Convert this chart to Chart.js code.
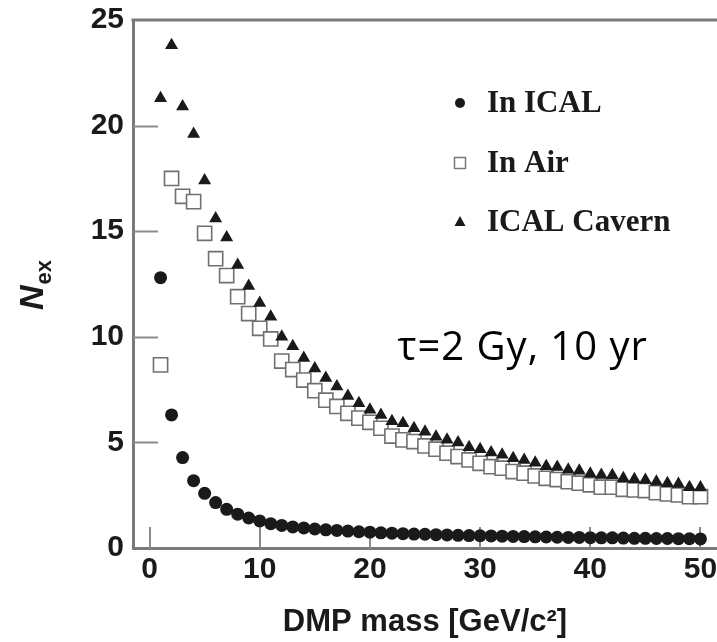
<!DOCTYPE html>
<html>
<head>
<meta charset="utf-8">
<title>N_ex vs DMP mass</title>
<script src="https://cdn.jsdelivr.net/npm/chart.js@4.4.1/dist/chart.umd.min.js"></script>
<style>
  html, body { margin: 0; padding: 0; background: #fff; }
  #chart { display: block; }
</style>
</head>
<body>
<canvas id="chart" width="717" height="642"></canvas>
<script>
// DMP mass in GeV/c^2
const masses = [1, 2, 3, 4, 5, 6, 7, 8, 9, 10,
  11, 12, 13, 14, 15, 16, 17, 18, 19, 20,
  21, 22, 23, 24, 25, 26, 27, 28, 29, 30,
  31, 32, 33, 34, 35, 36, 37, 38, 39, 40,
  41, 42, 43, 44, 45, 46, 47, 48, 49, 50];

const inIcal = [12.8, 6.3, 4.28, 3.19, 2.59, 2.15, 1.83, 1.6, 1.42, 1.28,
  1.15, 1.07, 1.0, 0.95, 0.9, 0.86, 0.83, 0.8, 0.77, 0.75,
  0.72, 0.7, 0.68, 0.66, 0.65, 0.63, 0.62, 0.6, 0.59, 0.58,
  0.57, 0.56, 0.55, 0.54, 0.53, 0.52, 0.51, 0.5, 0.5, 0.49,
  0.48, 0.48, 0.47, 0.46, 0.46, 0.45, 0.45, 0.44, 0.44, 0.43];

const inAir = [8.67, 17.5, 16.65, 16.4, 14.9, 13.7, 12.9, 11.9, 11.1, 10.4,
  9.9, 8.85, 8.45, 7.95, 7.45, 7.0, 6.7, 6.38, 6.15, 5.95,
  5.67, 5.3, 5.12, 5.04, 4.83, 4.68, 4.49, 4.33, 4.17, 4.01,
  3.85, 3.78, 3.62, 3.54, 3.41, 3.3, 3.24, 3.14, 3.07, 2.99,
  2.88, 2.88, 2.78, 2.75, 2.72, 2.62, 2.56, 2.51, 2.43, 2.43];

const icalCavern = [21.3, 23.8, 20.9, 19.6, 17.4, 15.6, 14.7, 13.4, 12.4, 11.6,
  10.95, 10.0, 9.55, 9.0, 8.5, 8.05, 7.65, 7.2, 6.85, 6.55,
  6.3, 6.0, 5.91, 5.67, 5.51, 5.27, 5.12, 4.99, 4.77, 4.68,
  4.52, 4.41, 4.25, 4.17, 4.04, 3.87, 3.84, 3.7, 3.66, 3.51,
  3.46, 3.44, 3.3, 3.26, 3.22, 3.14, 3.07, 3.03, 2.88, 2.87];

const seriesNames = ['In ICAL', 'In Air', 'ICAL Cavern'];
const xTickValues = [0, 10, 20, 30, 40, 50];
const yTickValues = [0, 5, 10, 15, 20, 25];
const xTitle = 'DMP mass [GeV/c²]';
const yTitleMain = 'N';
const yTitleSub = 'ex';
const noteText = 'τ=2 Gy, 10 yr';

const axisGray = '#7a7a7a';
const ink = '#1a1a1a';
const sansBold = '"Liberation Sans", Arial, sans-serif';

function toPoints(values) {
  return masses.map((m, i) => ({ x: m, y: values[i] }));
}

// inner tick marks, top frame line, N_ex title, legend and note
const decorPlugin = {
  id: 'decor',
  beforeDatasetsDraw(chart) {
    const { ctx, chartArea, scales } = chart;
    ctx.save();
    ctx.strokeStyle = '#8a8a8a';
    ctx.lineWidth = 2;
    // y ticks pointing into the plot
    yTickValues.forEach(v => {
      if (v === 0 || v === 25) return;
      const y = Math.round(scales.y.getPixelForValue(v)) + 0.5;
      ctx.beginPath();
      ctx.moveTo(chartArea.left, y);
      ctx.lineTo(chartArea.left + 25, y);
      ctx.stroke();
    });
    // x ticks pointing into the plot
    xTickValues.forEach(v => {
      const x = Math.round(scales.x.getPixelForValue(v));
      ctx.beginPath();
      ctx.moveTo(x, chartArea.bottom);
      ctx.lineTo(x, chartArea.bottom - 21);
      ctx.stroke();
    });
    // top frame
    ctx.strokeStyle = axisGray;
    ctx.lineWidth = 3;
    ctx.beginPath();
    ctx.moveTo(chartArea.left - 1.5, chartArea.top);
    ctx.lineTo(chart.width, chartArea.top);
    ctx.stroke();
    ctx.restore();
  },
  afterDraw(chart) {
    const { ctx, scales } = chart;
    ctx.save();

    // y axis title: italic N with subscript "ex", rotated
    ctx.translate(43, 310);
    ctx.rotate(-Math.PI / 2);
    ctx.fillStyle = ink;
    ctx.textBaseline = 'alphabetic';
    ctx.textAlign = 'left';
    ctx.font = 'italic bold 34px ' + sansBold;
    ctx.fillText(yTitleMain, 0, 0);
    const nW = ctx.measureText(yTitleMain).width;
    ctx.font = 'bold 22px ' + sansBold;
    ctx.fillText(yTitleSub, nW + 1, 8);
    ctx.restore();

    // legend
    ctx.save();
    const rows = [103, 163, 222];
    const mx = 460;
    const tx = 487;
    ctx.font = 'bold 31px "Liberation Serif", "Times New Roman", serif';
    ctx.textBaseline = 'middle';
    ctx.textAlign = 'left';
    rows.forEach((ry, i) => {
      ctx.fillStyle = ink;
      ctx.strokeStyle = axisGray;
      if (i === 0) {
        ctx.beginPath();
        ctx.arc(mx, ry, 5, 0, Math.PI * 2);
        ctx.fill();
      } else if (i === 1) {
        ctx.fillStyle = '#fff';
        ctx.lineWidth = 1.5;
        ctx.fillRect(mx - 5.5, ry - 5.5, 11, 11);
        ctx.strokeRect(mx - 5.5, ry - 5.5, 11, 11);
      } else {
        ctx.beginPath();
        ctx.moveTo(mx, ry - 6);
        ctx.lineTo(mx + 5.5, ry + 4);
        ctx.lineTo(mx - 5.5, ry + 4);
        ctx.closePath();
        ctx.fill();
      }
      ctx.fillStyle = ink;
      ctx.fillText(seriesNames[i], tx, ry + 1);
    });
    ctx.restore();

    // annotation
    ctx.save();
    ctx.fillStyle = '#000';
    ctx.font = '40px "Open Sans", Lato, sans-serif';
    if ('letterSpacing' in ctx) ctx.letterSpacing = '1px';
    ctx.textBaseline = 'alphabetic';
    ctx.textAlign = 'left';
    ctx.fillText(noteText, scales.x.getPixelForValue(22.5), scales.y.getPixelForValue(8.9));
    ctx.restore();
  }
};

const ctx = document.getElementById('chart').getContext('2d');
new Chart(ctx, {
  type: 'scatter',
  data: {
    datasets: [
      {
        label: seriesNames[0],
        data: toPoints(inIcal),
        pointStyle: 'circle',
        pointRadius: 6.5,
        backgroundColor: ink,
        borderColor: ink,
        borderWidth: 0,
        order: 2
      },
      {
        label: seriesNames[1],
        data: toPoints(inAir),
        pointStyle: 'rect',
        pointRadius: 10,
        backgroundColor: '#fff',
        borderColor: '#707070',
        borderWidth: 1.6,
        order: 1
      },
      {
        label: seriesNames[2],
        data: toPoints(icalCavern),
        pointStyle: 'triangle',
        pointRadius: 7.5,
        backgroundColor: ink,
        borderColor: ink,
        borderWidth: 0,
        order: 0
      }
    ]
  },
  options: {
    responsive: false,
    devicePixelRatio: 1,
    animation: false,
    events: [],
    layout: { autoPadding: false, padding: { top: 20, left: 0, right: 0, bottom: 0 } },
    plugins: {
      legend: { display: false },
      tooltip: { enabled: false }
    },
    scales: {
      x: {
        type: 'linear',
        min: -1.5,
        max: 51.5,
        afterBuildTicks: scale => {
          scale.ticks = xTickValues.map(v => ({ value: v }));
        },
        afterFit: scale => {
          scale.height = 94;
          scale.paddingLeft = 0;
          scale.paddingRight = 0;
        },
        grid: { display: false, drawTicks: false },
        border: { display: true, color: axisGray, width: 3 },
        ticks: {
          padding: 4,
          color: ink,
          maxRotation: 0,
          autoSkip: false,
          font: { family: sansBold, size: 30, weight: 'bold' }
        },
        title: {
          display: true,
          text: xTitle,
          color: ink,
          padding: { top: 0, bottom: 1 },
          font: { family: sansBold, size: 31, weight: 'bold' }
        }
      },
      y: {
        type: 'linear',
        min: 0,
        max: 25,
        afterBuildTicks: scale => {
          scale.ticks = yTickValues.map(v => ({ value: v }));
        },
        afterFit: scale => {
          scale.width = 133;
          scale.paddingTop = 0;
          scale.paddingBottom = 0;
        },
        grid: { display: false, drawTicks: false },
        border: { display: true, color: axisGray, width: 3 },
        ticks: {
          padding: 9,
          color: ink,
          font: { family: sansBold, size: 30, weight: 'bold' }
        }
      }
    }
  },
  plugins: [decorPlugin]
});
</script>
</body>
</html>
